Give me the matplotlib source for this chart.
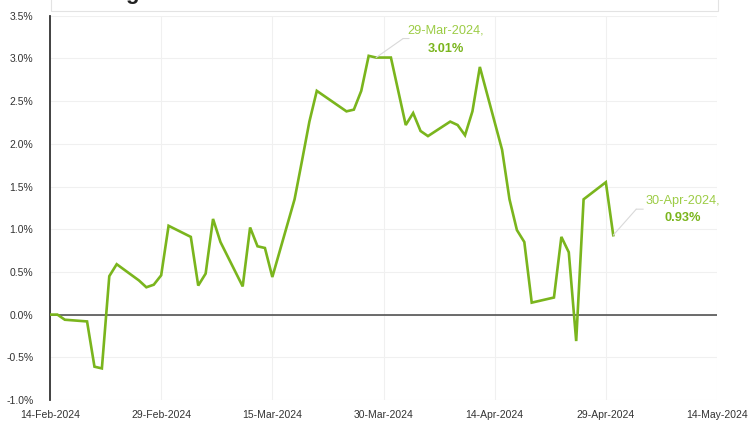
import matplotlib.pyplot as plt
import matplotlib.dates as mdates
import matplotlib.transforms as mtransforms
from matplotlib.patches import Rectangle
import pandas as pd

plt.rcParams['font.family'] = ['Liberation Sans', 'DejaVu Sans']

dates = ['2024-02-14', '2024-02-15', '2024-02-16', '2024-02-19', '2024-02-20', '2024-02-21',
         '2024-02-22', '2024-02-23', '2024-02-26', '2024-02-27', '2024-02-28', '2024-02-29',
         '2024-03-01', '2024-03-04', '2024-03-05', '2024-03-06', '2024-03-07', '2024-03-08',
         '2024-03-11', '2024-03-12', '2024-03-13', '2024-03-14', '2024-03-15', '2024-03-18',
         '2024-03-19', '2024-03-20', '2024-03-21', '2024-03-25', '2024-03-26', '2024-03-27',
         '2024-03-28', '2024-03-29', '2024-03-31', '2024-04-02', '2024-04-03', '2024-04-04',
         '2024-04-05', '2024-04-08', '2024-04-09', '2024-04-10', '2024-04-11', '2024-04-12',
         '2024-04-15', '2024-04-16', '2024-04-17', '2024-04-18', '2024-04-19', '2024-04-22',
         '2024-04-23', '2024-04-24', '2024-04-25', '2024-04-26', '2024-04-29', '2024-04-30']
values = [0.00, 0.00, -0.06, -0.08, -0.61, -0.63,
          0.45, 0.59, 0.40, 0.32, 0.35, 0.46,
          1.04, 0.91, 0.34, 0.48, 1.12, 0.85,
          0.33, 1.02, 0.80, 0.78, 0.44, 1.35,
          1.80, 2.26, 2.62, 2.38, 2.40, 2.62,
          3.03, 3.01, 3.01, 2.22, 2.36, 2.15,
          2.09, 2.26, 2.22, 2.10, 2.38, 2.90,
          1.93, 1.35, 0.99, 0.85, 0.14, 0.20,
          0.91, 0.73, -0.31, 1.35, 1.55, 0.93]

x_ticks = ['2024-02-14', '2024-02-29', '2024-03-15', '2024-03-30',
           '2024-04-14', '2024-04-29', '2024-05-14']
y_ticks = [-1.0, -0.5, 0.0, 0.5, 1.0, 1.5, 2.0, 2.5, 3.0, 3.5]

callouts = [('2024-03-29', 3.01, 'Mar'), ('2024-04-30', 0.93, 'Apr')]

line_green = '#7ab51d'
label_green = '#9ccc45'

d = pd.to_datetime(dates)
xt = pd.to_datetime(x_ticks)

fig = plt.figure(figsize=(7.53, 4.23), dpi=100)
ax = fig.add_axes([50 / 753, 1 - 400 / 423, 667 / 753, (400 - 15.7) / 423])

ax.plot(d, values, color=line_green, lw=1.9, zorder=3, solid_joinstyle='miter')
ax.axhline(0, color='#444444', lw=1.1, zorder=2)

ax.set_xlim(xt[0], xt[-1])
ax.set_ylim(-1.0, 3.5)
ax.set_xticks(xt)
ax.xaxis.set_major_formatter(mdates.DateFormatter('%d-%b-%Y'))
ax.set_yticks(y_ticks)
ax.set_yticklabels(['%.1f%%' % v for v in y_ticks])
ax.grid(True, color='#f0f0f0', lw=0.8, zorder=0)

for s in ['top', 'right', 'bottom']:
    ax.spines[s].set_visible(False)
ax.spines['left'].set_color('#333333')
ax.spines['left'].set_linewidth(1.3)
ax.tick_params(length=0, labelsize=7.5, colors='#333333')
ax.tick_params(axis='y', pad=12)
ax.tick_params(axis='x', pad=7)

offsets = {'Mar': ((27, 19), (33, 19), 27, 9), 'Apr': ((23, 26), (30, 26), 34, 17)}
for dt, val, key in callouts:
    p = mdates.date2num(pd.Timestamp(dt))
    elbow, end, ydate, yval = offsets[key]
    ax.annotate('', xy=(p, val), xytext=elbow, textcoords='offset pixels',
                arrowprops=dict(arrowstyle='-', color='#d9d9d9', lw=0.8,
                                shrinkA=0, shrinkB=0))
    tr = mtransforms.offset_copy(ax.transData, fig=fig, x=elbow[0], y=elbow[1], units='dots')
    ax.annotate('', xy=(p, val), xycoords=tr, xytext=(end[0] - elbow[0], 0),
                textcoords='offset pixels',
                arrowprops=dict(arrowstyle='-', color='#d9d9d9', lw=0.8,
                                shrinkA=0, shrinkB=0))
    ax.annotate(pd.Timestamp(dt).strftime('%d-%b-%Y') + ',', xy=(p, val), xytext=(70, ydate),
                textcoords='offset pixels', ha='center', va='center',
                color=label_green, fontsize=9.2)
    ax.annotate('%.2f%%' % val, xy=(p, val), xytext=(70, yval),
                textcoords='offset pixels', ha='center', va='center',
                color=line_green, fontsize=9.2, fontweight='bold')

# title box cut off by the top edge
fig.patches.append(Rectangle((51 / 753, 1 - 11.5 / 423), 667 / 753, 0.1,
                             transform=fig.transFigure, facecolor='white',
                             edgecolor='#e3e3e3', lw=0.8))
fig.text(125 / 753, 1 + 1.5 / 423, 'g', fontsize=16, fontweight='bold',
         color='#222222', va='baseline')

fig.savefig('out.png', dpi=100)
